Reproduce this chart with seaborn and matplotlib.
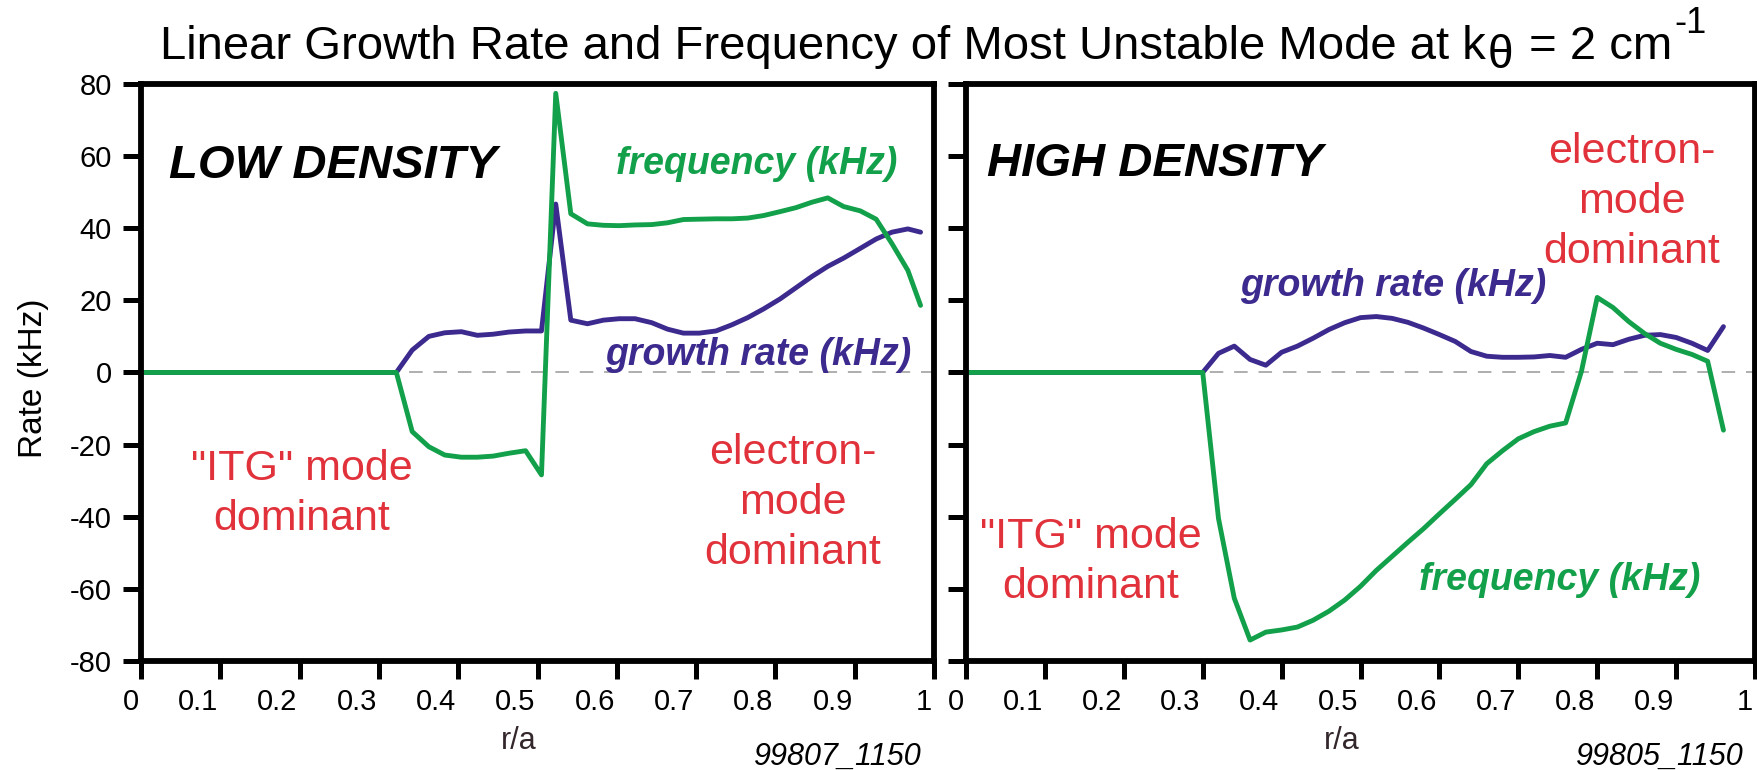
import matplotlib
matplotlib.use("Agg")
import matplotlib.pyplot as plt
import matplotlib.transforms as mtransforms
from matplotlib.text import Annotation
import pandas as pd
import seaborn as sns

# ---- data: growth rate and real frequency (kHz) of the most unstable mode vs r/a ----
r_low = [0.0, 0.322, 0.342, 0.363, 0.383, 0.404, 0.424, 0.444, 0.464, 0.485, 0.505,
         0.523, 0.542, 0.563, 0.583, 0.603, 0.623, 0.644, 0.664, 0.684, 0.704, 0.725,
         0.745, 0.765, 0.785, 0.806, 0.826, 0.846, 0.866, 0.886, 0.907, 0.927, 0.947,
         0.967, 0.983]
growth_low = [0.0, 0.0, 6.2, 10.0, 11.0, 11.3, 10.3, 10.6, 11.2, 11.5, 11.5,
              46.7, 14.5, 13.5, 14.5, 14.9, 14.9, 13.8, 12.0, 10.9, 10.9, 11.5,
              13.2, 15.2, 17.6, 20.4, 23.5, 26.6, 29.4, 31.7, 34.4, 37.0, 38.9,
              39.8, 38.9]
freq_low = [0.0, 0.0, -16.4, -20.6, -22.9, -23.5, -23.5, -23.2, -22.4, -21.7, -28.4,
            77.4, 44.0, 41.2, 40.8, 40.7, 40.9, 41.0, 41.5, 42.4, 42.5, 42.6,
            42.6, 42.8, 43.5, 44.6, 45.7, 47.2, 48.4, 46.0, 44.8, 42.5, 35.7,
            28.3, 18.6]

r_high = [0.0, 0.30, 0.32, 0.34, 0.36, 0.38, 0.40, 0.42, 0.44, 0.46, 0.48, 0.50,
          0.52, 0.54, 0.56, 0.58, 0.60, 0.62, 0.64, 0.66, 0.68, 0.70, 0.72, 0.74,
          0.76, 0.78, 0.80, 0.82, 0.84, 0.86, 0.88, 0.90, 0.92, 0.94, 0.96]
growth_high = [0.0, 0.0, 5.3, 7.3, 3.6, 2.0, 5.6, 7.3, 9.5, 11.9, 13.8, 15.2,
               15.5, 15.0, 13.9, 12.3, 10.5, 8.6, 5.8, 4.5, 4.2, 4.2, 4.3, 4.7,
               4.2, 6.4, 8.1, 7.7, 9.2, 10.3, 10.5, 9.7, 8.1, 6.1, 12.7]
freq_high = [0.0, 0.0, -40.5, -62.6, -74.2, -72.0, -71.4, -70.6, -68.7, -66.2, -63.1, -59.3,
             -54.9, -51.0, -47.1, -43.3, -39.2, -35.2, -31.1, -25.3, -21.7, -18.4, -16.4, -14.9,
             -14.0, 0.3, 20.8, 18.0, 14.1, 10.8, 8.1, 6.4, 5.0, 3.1, -16.0]

x_ticks = [0, 0.1, 0.2, 0.3, 0.4, 0.5, 0.6, 0.7, 0.8, 0.9, 1.0]
x_tick_labels = ["0", "0.1", "0.2", "0.3", "0.4", "0.5", "0.6", "0.7", "0.8", "0.9", "1"]
y_ticks = [-80, -60, -40, -20, 0, 20, 40, 60, 80]
y_tick_labels = ["-80", "-60", "-40", "-20", "0", "20", "40", "60", "80"]

panel_titles = ["LOW DENSITY", "HIGH DENSITY"]
shot_ids = ["99807_1150", "99805_1150"]

GREEN = "#12a04a"
PURPLE = "#3d2a8e"
RED = "#e1323b"
ZERO_GRAY = "#a8a8a8"

sns.set_theme(style="white")
plt.rcParams["font.family"] = ["Liberation Sans", "DejaVu Sans"]
plt.rcParams["axes.unicode_minus"] = False

fig = plt.figure(figsize=(17.58, 7.70), dpi=100)
ax_low = fig.add_axes([0.0802, 0.1416, 0.4511, 0.7494])
ax_high = fig.add_axes([0.5495, 0.1416, 0.4488, 0.7494])


def draw_panel(ax, r, growth, freq, show_ylabels):
    df = pd.DataFrame({"r": r, "growth": growth, "freq": freq})
    ax.axhline(0, color=ZERO_GRAY, lw=1.3, ls=(0, (7.5, 6)), zorder=1)
    sns.lineplot(data=df, x="r", y="growth", ax=ax, color=PURPLE, lw=3.5,
                 estimator=None, sort=False, zorder=3)
    sns.lineplot(data=df, x="r", y="freq", ax=ax, color=GREEN, lw=3.5,
                 estimator=None, sort=False, zorder=4)
    ax.set_xlim(0, 1)
    ax.set_ylim(-80, 80)
    ax.set_xticks(x_ticks)
    ax.set_xticklabels(x_tick_labels)
    ax.set_yticks(y_ticks)
    ax.set_yticklabels(y_tick_labels)
    for spine in ax.spines.values():
        spine.set_visible(True)
        spine.set_color("black")
        spine.set_linewidth(4.2)
        spine.set_zorder(5)
    ax.tick_params(axis="both", direction="out", length=13, width=3.6, color="black",
                   labelsize=21, labelcolor="black", left=True, bottom=True)
    ax.tick_params(axis="y", pad=8, labelleft=show_ylabels)
    ax.tick_params(axis="x", pad=6.5)
    # x tick labels sit flush to the left of their tick marks
    shift = mtransforms.ScaledTranslation(-0.02, 0, fig.dpi_scale_trans)
    for lab in ax.get_xticklabels():
        lab.set_horizontalalignment("right")
        lab.set_transform(lab.get_transform() + shift)
    ax.set_xlabel("r/a", fontsize=22, color="#33262c", va="baseline")
    ax.xaxis.set_label_coords(0.476, -0.1525)
    ax.set_ylabel("")


draw_panel(ax_low, r_low, growth_low, freq_low, True)
draw_panel(ax_high, r_high, growth_high, freq_high, False)

ax_low.set_ylabel("Rate (kHz)", fontsize=24, color="black", va="center", ha="center")
ax_low.yaxis.set_label_coords(-0.135, 0.49)

bold_it = dict(fontweight="bold", style="italic")
red_kw = dict(fontsize=31, color=RED, ha="center", va="baseline",
              multialignment="center", linespacing=1.33)

# low-density panel annotations
ax_low.text(0.242, 53.9, panel_titles[0], fontsize=34, color="black", ha="center",
            va="baseline", **bold_it)
ax_low.text(0.777, 55.0, "frequency (kHz)", fontsize=27, color=GREEN, ha="center",
            va="baseline", **bold_it)
ax_low.text(0.778, 2.1, "growth rate (kHz)", fontsize=27, color=PURPLE, ha="center",
            va="baseline", **bold_it)
ax_low.text(0.203, -43.7, "\"ITG\" mode\ndominant", **red_kw)
ax_low.text(0.822, -53.2, "electron-\nmode\ndominant", **red_kw)

# high-density panel annotations
ax_high.text(0.240, 54.4, panel_titles[1], fontsize=34, color="black", ha="center",
             va="baseline", **bold_it)
ax_high.text(0.541, 21.2, "growth rate (kHz)", fontsize=27, color=PURPLE, ha="center",
             va="baseline", **bold_it)
ax_high.text(0.752, -60.3, "frequency (kHz)", fontsize=27, color=GREEN, ha="center",
             va="baseline", **bold_it)
ax_high.text(0.158, -62.6, "\"ITG\" mode\ndominant", **red_kw)
ax_high.text(0.844, 30.3, "electron-\nmode\ndominant", **red_kw)

# figure title: lowered theta subscript and raised exponent
t_main = fig.text(160 / 1758, 1 - 59.3 / 770,
                  "Linear Growth Rate and Frequency of Most Unstable Mode at k",
                  ha="left", va="baseline", fontsize=34, color="black")
t_theta = fig.add_artist(Annotation("θ", xy=(1, 0), xycoords=t_main,
                                    xytext=(1.5, -6), textcoords="offset points",
                                    ha="left", va="bottom", fontsize=33, color="black"))
t_eq = fig.add_artist(Annotation(" = 2 cm", xy=(1, 0), xycoords=(t_theta, t_main),
                                 xytext=(2, 0), textcoords="offset points",
                                 ha="left", va="bottom", fontsize=34, color="black"))
t_exp = fig.add_artist(Annotation("-1", xy=(1, 0), xycoords=(t_eq, t_main),
                                  xytext=(1.5, 20.5), textcoords="offset points",
                                  ha="left", va="bottom", fontsize=26, color="black"))

fig.text(0.5245, 1 - 765 / 770, shot_ids[0], ha="right", va="baseline", fontsize=22,
         style="italic", color="black")
fig.text(0.992, 1 - 765 / 770, shot_ids[1], ha="right", va="baseline", fontsize=22,
         style="italic", color="black")

fig.savefig("out.png", dpi=100, facecolor="white")
